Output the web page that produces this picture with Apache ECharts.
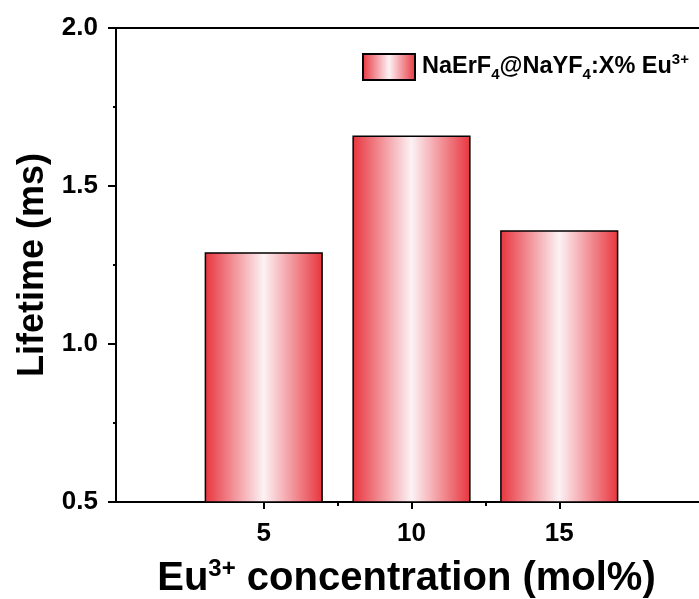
<!DOCTYPE html>
<html>
<head>
<meta charset="utf-8">
<script src="https://cdn.jsdelivr.net/npm/echarts@6/dist/echarts.min.js"></script>
<style>
html,body{margin:0;padding:0;background:#fff;overflow:hidden;}
#chart{width:699px;height:599px;}
</style>
</head>
<body>
<div id="chart"></div>
<script>
// Data
const concentrations = [5, 10, 15];
const lifetimes = [1.29, 1.66, 1.36];
const xTickLabels = [5, 10, 15];
const xMinorTicks = [7.5, 12.5];
const seriesName = 'NaErF4@NaYF4:X% Eu3+';

const FONT = '"Liberation Sans", Arial, sans-serif';
const chart = echarts.init(document.getElementById('chart'), null, {renderer: 'canvas'});

const grad = new echarts.graphic.LinearGradient(0, 0, 1, 0, [
  {offset: 0, color: '#e8343d'},
  {offset: 0.5, color: '#fcf2f5'},
  {offset: 1, color: '#e8343d'}
]);

const axisLineStyle = {color: '#000', width: 2};

const option = {
  backgroundColor: '#fff',
  animation: false,
  grid: {left: 116, top: 28, bottom: 97, right: -8, containLabel: false, outerBoundsMode: 'none'},
  legend: {
    left: 362, top: 52, padding: 0,
    itemWidth: 52, itemHeight: 26, itemGap: 6,
    icon: 'rect',
    data: [seriesName],
    formatter: function () {
      return '{n|NaErF}{sub|4}{n|@NaYF}{sub|4}{n|:X% Eu}{sup|3+}';
    },
    textStyle: {
      fontFamily: FONT, fontWeight: 'bold', color: '#000', padding: [0, 0, 0, 2],
      rich: {
        n: {fontFamily: FONT, fontWeight: 'bold', fontSize: 23.5, color: '#000', lineHeight: 30},
        sub: {fontFamily: FONT, fontWeight: 'bold', fontSize: 15, color: '#000', verticalAlign: 'bottom', lineHeight: 30},
        sup: {fontFamily: FONT, fontWeight: 'bold', fontSize: 15, color: '#000', verticalAlign: 'top', lineHeight: 30}
      }
    }
  },
  xAxis: [
    {
      type: 'value', position: 'bottom', min: 0, max: 20, interval: 2.5,
      name: '{n|Eu}{sup|3+}{n| concentration (mol%)}',
      nameLocation: 'middle', nameGap: 55,
      nameTextStyle: {
        padding: [0, 10, 0, 0],
        rich: {
          n: {fontFamily: FONT, fontWeight: 'bold', fontSize: 40, color: '#000', lineHeight: 44},
          sup: {fontFamily: FONT, fontWeight: 'bold', fontSize: 24, color: '#000', verticalAlign: 'top', lineHeight: 44}
        }
      },
      axisLine: {show: true, onZero: false, lineStyle: axisLineStyle},
      axisTick: {show: true, inside: false, length: 7, lineStyle: {color: '#000', width: 2}, customValues: xTickLabels},
      axisLabel: {show: true, customValues: xTickLabels, margin: 19, fontFamily: FONT, fontWeight: 'bold', fontSize: 26, color: '#000'},
      splitLine: {show: false}
    },
    {
      type: 'value', position: 'bottom', min: 0, max: 20, interval: 2.5,
      axisLine: {show: false, onZero: false},
      axisTick: {show: true, inside: false, length: 4, lineStyle: {color: '#000', width: 2}, customValues: xMinorTicks},
      axisLabel: {show: false},
      splitLine: {show: false}
    },
    {
      type: 'value', position: 'top', min: 0, max: 20,
      axisLine: {show: true, onZero: false, lineStyle: axisLineStyle},
      axisTick: {show: false}, axisLabel: {show: false}, splitLine: {show: false}
    }
  ],
  yAxis: {
    type: 'value', min: 0.5, max: 2.0, interval: 0.5,
    name: 'Lifetime (ms)', nameLocation: 'middle', nameGap: 62,
    nameTextStyle: {fontFamily: FONT, fontWeight: 'bold', fontSize: 36, color: '#000', padding: [0, 0, 0, 0]},
    axisLine: {show: true, onZero: false, lineStyle: axisLineStyle},
    axisTick: {show: true, inside: false, length: 8, lineStyle: {color: '#000', width: 2}},
    minorTick: {show: true, splitNumber: 2, length: 3, lineStyle: {color: '#000', width: 2}},
    axisLabel: {margin: 18, fontFamily: FONT, fontWeight: 'bold', fontSize: 26, color: '#000',
      formatter: v => v.toFixed(1)},
    splitLine: {show: false}
  },
  series: [{
    name: seriesName,
    type: 'bar',
    xAxisIndex: 0,
    barWidth: '80%',
    data: concentrations.map((c, i) => [c, lifetimes[i]]),
    itemStyle: {color: grad, borderColor: '#000', borderWidth: 1.5}
  }]
};
chart.setOption(option);
</script>
</body>
</html>
